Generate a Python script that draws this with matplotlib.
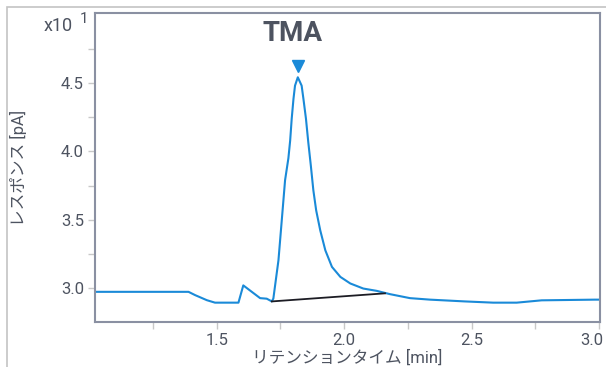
import matplotlib
matplotlib.use("Agg")
import matplotlib.pyplot as plt
import matplotlib.transforms as mtransforms
from matplotlib.patches import Rectangle

plt.rcParams['font.family'] = ['Roboto', 'Noto Sans CJK JP', 'DejaVu Sans']

# chromatogram trace (time in min, response in x10 pA)
rt = [1.022, 1.389, 1.415, 1.461, 1.493, 1.585, 1.604, 1.670, 1.696, 1.716,
      1.722, 1.742, 1.755, 1.768, 1.781, 1.788, 1.794, 1.801, 1.807, 1.818,
      1.833, 1.840, 1.850, 1.859, 1.869, 1.879, 1.890, 1.906, 1.926, 1.952,
      1.985, 2.024, 2.075, 2.128, 2.180,
      2.258, 2.337, 2.474, 2.585, 2.677, 2.775, 2.984, 3.004]
resp = [2.975, 2.975, 2.951, 2.914, 2.896, 2.896, 3.022, 2.929, 2.925, 2.905,
        2.926, 3.205, 3.497, 3.790, 3.950, 4.080, 4.238, 4.384, 4.480, 4.541,
        4.480, 4.384, 4.238, 4.068, 3.898, 3.716, 3.570, 3.424, 3.278, 3.157,
        3.084, 3.036, 2.999, 2.982, 2.958,
        2.929, 2.918, 2.905, 2.896, 2.896, 2.913, 2.918, 2.918]

# integration baseline
base_rt = [1.716, 2.160]
base_resp = [2.905, 2.964]

peak_name = "TMA"
peak_rt = 1.818
peak_top = 4.541

blue = '#1a8ad8'
spine_col = '#8a90a2'
text_col = '#4d5360'

fig = plt.figure(figsize=(6.06, 3.67), dpi=100)
ax = fig.add_axes([95/606, 1-321.7/367, (600-95)/606, (321.7-13.3)/367])

ax.plot(rt, resp, color=blue, lw=1.5)
ax.plot(base_rt, base_resp, color='#1c1c24', lw=1.3)
ax.plot([peak_rt], [peak_top + 0.08], marker='v', color=blue, ms=9, ls='none')
ax.text(peak_rt - 0.02, 4.86, peak_name, ha='center', va='center',
        fontsize=20, fontweight='bold', color=text_col)

ax.set_xlim(1.022, 3.004)
ax.set_ylim(2.757, 5.008)
ax.set_xticks([1.5, 2.0, 2.5, 3.0])
ax.set_xticks([1.25, 1.75, 2.25, 2.75], minor=True)
ax.set_yticks([3.0, 3.5, 4.0, 4.5])
ax.set_yticks([3.25, 3.75, 4.25, 4.75], minor=True)
ax.set_xticklabels(['1.5', '2.0', '2.5', '3.0'])
ax.set_yticklabels(['3.0', '3.5', '4.0', '4.5'])
ax.tick_params(which='both', direction='out', color='#c8c8c8', length=5,
               width=1, labelsize=12, labelcolor=text_col, pad=3)

# last x label sits a little left of its tick, as in the original
shift = mtransforms.ScaledTranslation(-7/100, 0, fig.dpi_scale_trans)
last = ax.get_xticklabels()[-1]
last.set_transform(last.get_transform() + shift)

for s in ax.spines.values():
    s.set_color(spine_col)
    s.set_linewidth(1.5)

ax.set_xlabel('リテンションタイム [min]', fontsize=12, color=text_col, labelpad=1)
ax.set_ylabel('レスポンス [pA]', fontsize=12, color=text_col, labelpad=24)

fig.text(44/606, 1-26/367, 'x10', fontsize=13, color=text_col, va='center')
fig.text(80/606, 1-19/367, '1', fontsize=11, color=text_col, va='center')

# light outer frame (left and top edges visible)
fig.add_artist(Rectangle((6.5/606, -0.05), 1.2, 1 - 7/367 + 0.05,
                         transform=fig.transFigure, fill=False,
                         edgecolor='#c4c4c4', lw=1.2))

fig.savefig('out.png', dpi=100)
